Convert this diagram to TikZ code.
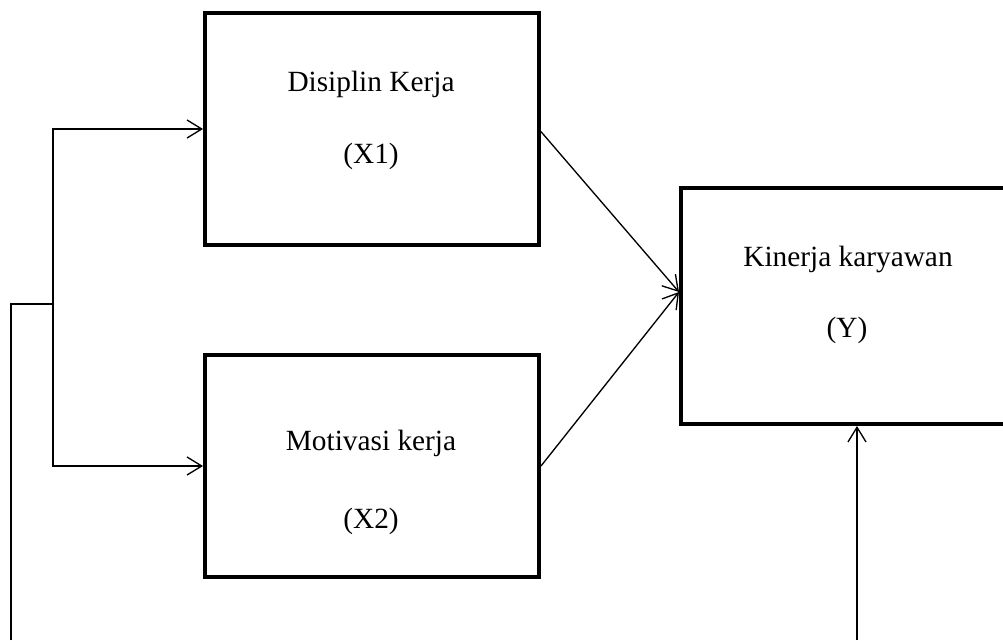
\documentclass[tikz,border=0pt]{standalone}
\usepackage{fontspec}
\setmainfont{Liberation Serif}
\usetikzlibrary{arrows.meta}
\tikzset{
  box/.style={draw, line width=3pt, inner sep=0pt},
  lbl/.style={font=\fontsize{22}{26}\selectfont, inner sep=0pt, anchor=center},
  arr/.style={line width=1pt, -{Straight Barb[length=11pt,width=13.5pt,line width=1pt]}},
  ln/.style={line width=1pt}
}
\begin{document}
\begin{tikzpicture}[x=0.75pt,y=-0.75pt]
\useasboundingbox (0,0) rectangle (1003,640);
\clip (0,0) rectangle (1003,640);
\node[box, minimum width=250.5pt, minimum height=174pt] (x1) at (372,129) {};
\node[box, minimum width=250.5pt, minimum height=166.5pt] (x2) at (372,466) {};
\node[box, minimum width=254.25pt, minimum height=177pt] (y) at (850.5,306) {};
\node[lbl] (t1) at (371,84) {Disiplin Kerja};
\node[lbl] (t1b) at (371,156) {(X1)};
\node[lbl] (t2) at (371,443) {Motivasi kerja};
\node[lbl] (t2b) at (371,521) {(X2)};
\node[lbl] (t3) at (848,259) {Kinerja karyawan};
\node[lbl] (t3b) at (847,330) {(Y)};
\coordinate (s) at (11,640);
\coordinate (b) at (53,304);
\coordinate (t) at (857,640);
\draw[ln] (s) |- (b);
\draw[arr] (b) |- (x1.west);
\draw[arr] (b) |- (x2.west);
\draw[arr] ([yshift=-2pt]x1.east) -- ([yshift=10.5pt]y.west);
\draw[arr] (x2.east) -- ([yshift=10.5pt]y.west);
\draw[arr] (t) -- (t |- y.south);
\end{tikzpicture}
\end{document}
